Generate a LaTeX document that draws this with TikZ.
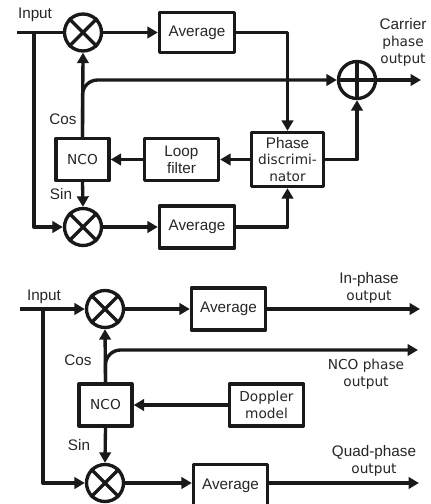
\documentclass[tikz,border=0pt]{standalone}
\usepackage{fontspec}
\setmainfont{Liberation Sans}
\newfontfamily\dvfont{DejaVu Sans}
\usetikzlibrary{arrows.meta}
\newcommand{\dv}[1]{{\dvfont\fontsize{7.8}{9.6}\selectfont #1}}
\tikzset{
    every node/.style={font=\fontsize{8.7}{9.6}\selectfont,text=black!85,align=center,inner sep=0pt},
    flow/.style={-{Triangle[length=2.1mm,width=2.3mm]}},
    blockbox/.style 2 args={draw,minimum width=#1 cm,minimum height=#2 cm},
    mixer/.style={draw,circle,minimum size=0.74cm}
}

\begin{document}
\begin{tikzpicture}[x=0.02cm,y=-0.02cm]
    \useasboundingbox (0,0) rectangle (430,504);
    \clip (0,0) rectangle (430,504);
    \tikzset{every path/.style={line width=1.9pt,color=black!90,line join=round}}

    % Carrier tracking loop
    \node [mixer] (mix1) at (83,32.5) {};
    \node [mixer] (mix2) at (83,227) {};
    \node [mixer] (adder) at (357,80) {};
    \node [blockbox={1.5}{0.8}] (avg1) at (197,32.5) {Average};
    \node [blockbox={1.5}{0.84}] (avg2) at (197,227) {Average};
    \node [blockbox={1.06}{0.84}] (nco1) at (82.5,159.5) {\dv{NCO}};
    \node [blockbox={1.48}{0.84}] (loop) at (181.5,159.5) {Loop\\filter};
    \node [blockbox={1.44}{1.08}] (disc) at (287.5,159.5) {Phase\\\dv{discrimi-}\\\dv{nator}};

    \coordinate (in1) at (17,32.5);
    \coordinate (tap1) at (34,32.5);
    \coordinate (out1) at (421,80);

    \draw (in1) -- (mix1.west);
    \draw[flow] (tap1) |- (mix2.west);
    \draw[flow] (mix1.east) -- (avg1.west);
    \draw[flow] (mix2.east) -- (avg2.west);
    \draw[flow] (nco1.north) -- (mix1.south);
    \draw[flow] (nco1.south) -- (mix2.north);
    \draw[flow,rounded corners=0.3cm] (nco1.north) |- (adder.west);
    \draw[flow] (adder.east) -- (out1);
    \draw[flow] (avg1.east) -| (disc.north);
    \draw[flow] (avg2.east) -| (disc.south);
    \draw[flow] (disc.west) -- (loop.east);
    \draw[flow] (loop.west) -- (nco1.east);
    \draw[flow] (disc.east) -| (adder.south);

    % Open loop version
    \node [mixer] (mix3) at (105,309) {};
    \node [mixer] (mix4) at (105,483) {};
    \node [blockbox={1.48}{0.84}] (avg3) at (228.5,309) {Average};
    \node [blockbox={1.48}{1.0},anchor=north] (avg4) at (230.5,462.5) {\raisebox{0pt}[0pt][0pt]{Average}};
    \node [blockbox={1.06}{0.84}] (nco2) at (105.5,405) {\dv{NCO}};
    \node [blockbox={1.48}{0.84}] (doppler) at (266.5,405) {\dv{Doppler}\\\dv{model}};

    \coordinate (in2) at (20,309);
    \coordinate (tap2) at (43,309);
    \coordinate (out3) at (420,309);
    \coordinate (out2) at (418,350);
    \coordinate (out4) at (419,483);

    \draw[flow] (in2) -- (mix3.west);
    \draw[flow] (tap2) |- (mix4.west);
    \draw[flow] (mix3.east) -- (avg3.west);
    \draw[flow] (mix4.east) -- (mix4.east -| avg4.west);
    \draw[flow] (nco2.north) -- (mix3.south);
    \draw[flow] (nco2.south) -- (mix4.north);
    \draw[flow,rounded corners=0.3cm] (nco2.north) |- (out2);
    \draw[flow] (doppler.west) -- (nco2.east);
    \draw[flow] (avg3.east) -- (out3);
    \draw[flow] (mix4.east -| avg4.east) -- (out4);

    % Crosses in the mixers
    \foreach \m in {mix1,mix2,mix3,mix4} {
        \draw (\m.45) -- (\m.225) (\m.135) -- (\m.315);
    }
    \draw (adder.north) -- (adder.south) (adder.west) -- (adder.east);

    % Labels
    \node (lblinput1) at (35,15) {Input};
    \node (lblcos1) at (63,119) {Cos};
    \node (lblsin1) at (61,194) {Sin};
    \node (lblcarrier) at (403,42.5) {Carrier\\\dv{phase}\\\dv{output}};
    \node (lblinput2) at (44,297) {Input};
    \node (lblcos2) at (78,360) {Cos};
    \node (lblsin2) at (79,445) {Sin};
    \node (lblinphase) at (369,287.5) {In-phase\\\dv{output}};
    \node (lblnco) at (366,374.5) {\dv{NCO phase}\\\dv{output}};
    \node (lblquad) at (374,460.5) {Quad-phase\\\dv{output}};
\end{tikzpicture}
\end{document}
